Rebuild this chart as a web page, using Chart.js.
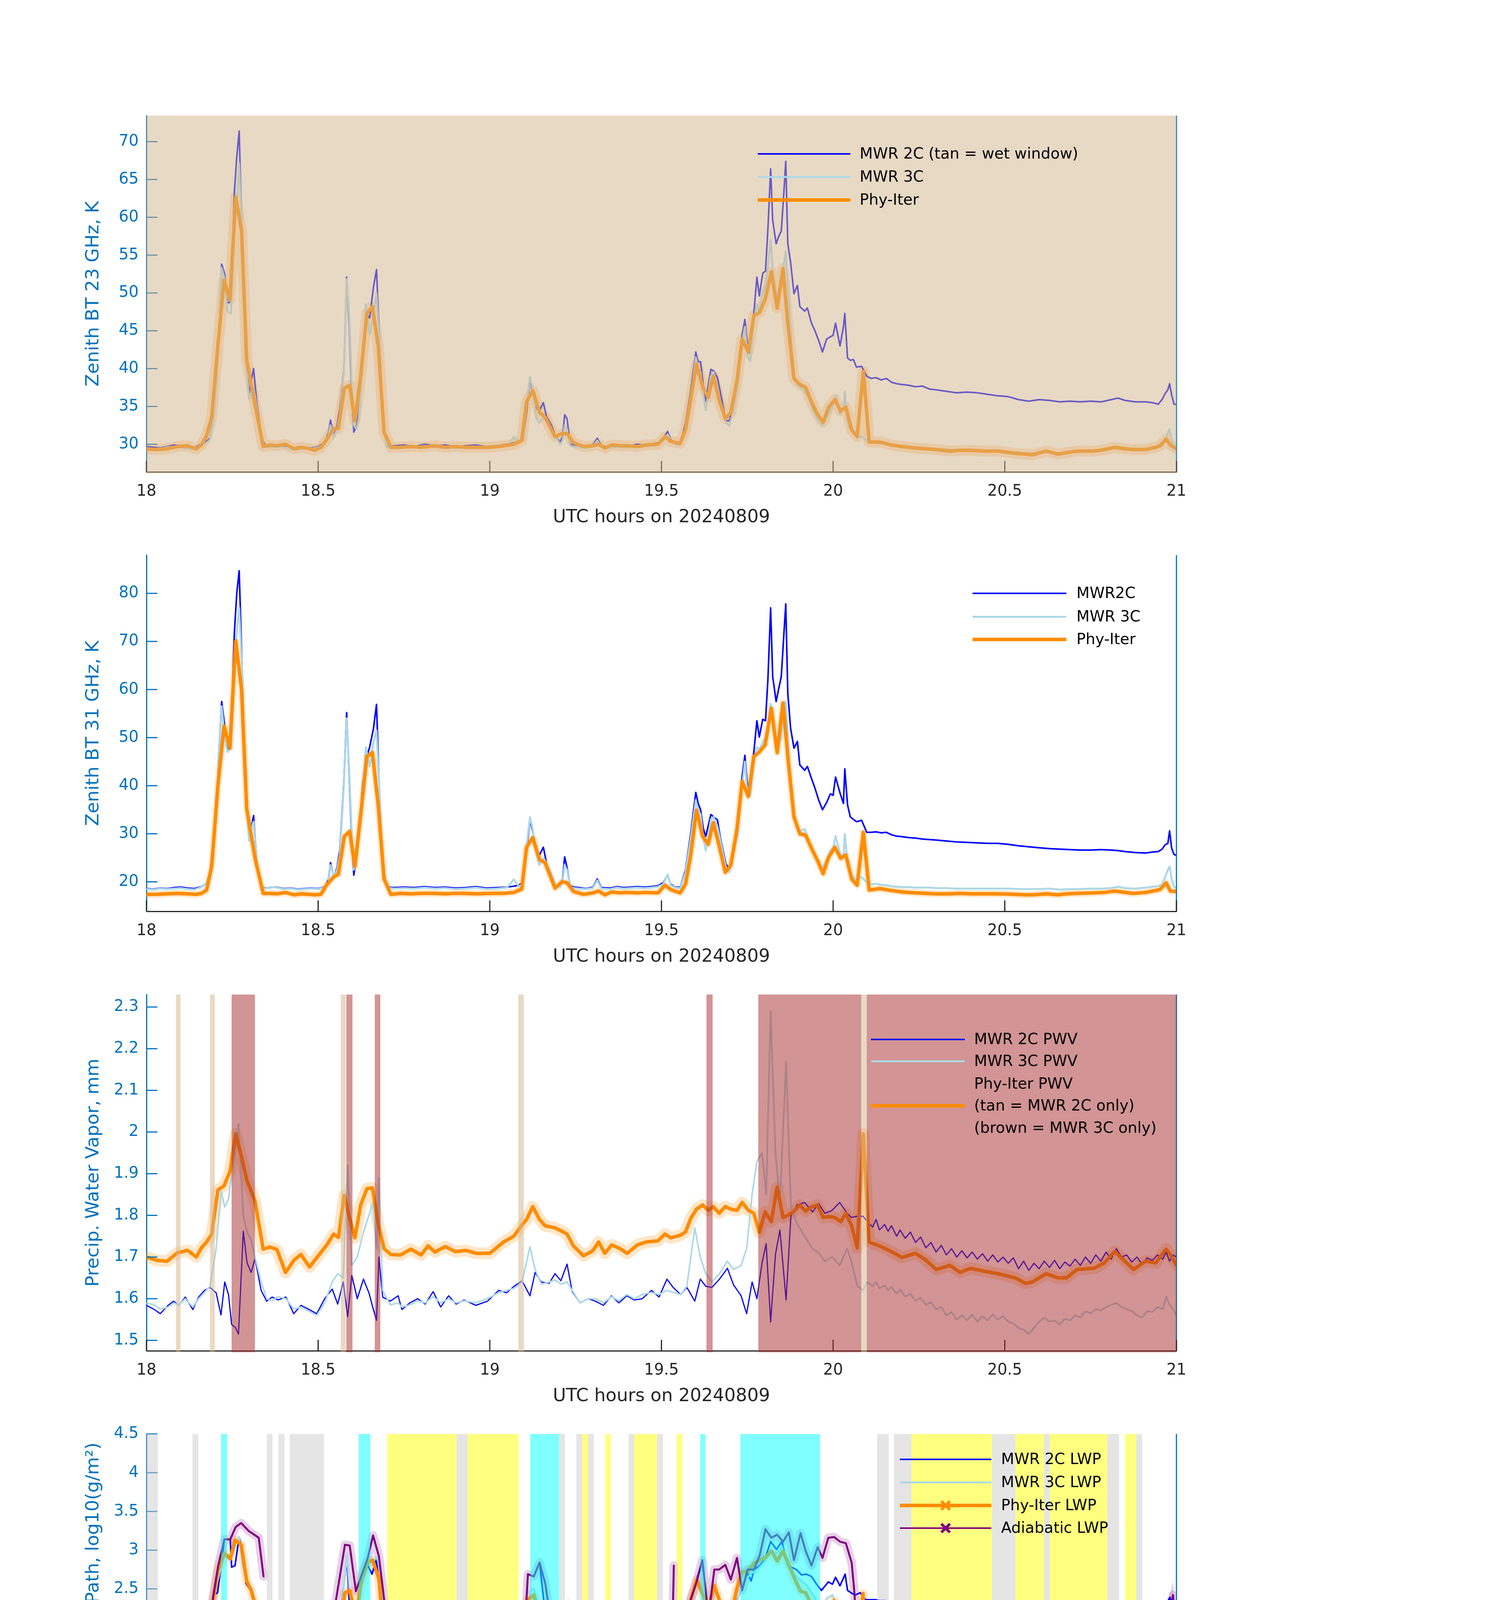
<!DOCTYPE html>
<html>
<head>
<meta charset="utf-8">
<title>MWR retrievals 20240809</title>
<script src="https://cdn.jsdelivr.net/npm/chart.js@4.4.1/dist/chart.umd.min.js"></script>
<style>
  html, body { margin: 0; padding: 0; background: #fff; }
  body { position: relative; width: 3825px; height: 6000px; overflow: hidden; }
  canvas { position: absolute; left: 0; }
</style>
</head>
<body>
<canvas id="bt23" width="3825" height="1125" style="top:230px"></canvas>
<canvas id="bt31" width="3825" height="1125" style="top:1355px"></canvas>
<canvas id="pwv" width="3825" height="1125" style="top:2480px"></canvas>
<canvas id="lwp" width="3825" height="1125" style="top:3605px"></canvas>
<canvas id="dq" width="3825" height="1125" style="top:4730px"></canvas>
<script>
// ---------- axis ticks ----------
const hourTicks = [18, 18.5, 19, 19.5, 20, 20.5, 21];
const bt23Ticks = [30, 35, 40, 45, 50, 55, 60, 65, 70];
const bt31Ticks = [20, 30, 40, 50, 60, 70, 80];
const pwvTicks = [1.5, 1.6, 1.7, 1.8, 1.9, 2, 2.1, 2.2, 2.3];
const lwpTicks = [0, 0.5, 1, 1.5, 2, 2.5, 3, 3.5, 4, 4.5];
const dqTicks = [0, 2, 4, 6, 8, 10];

// ---------- MWR brightness temperatures (panels 1 and 2) ----------
const mwrHours = [
  18.00, 18.02, 18.04, 18.06, 18.08, 18.10, 18.12, 18.14, 18.16, 18.175,
  18.185, 18.195, 18.204, 18.212, 18.219, 18.228, 18.236, 18.246, 18.256, 18.263,
  18.27, 18.28, 18.287, 18.299, 18.305, 18.312, 18.321, 18.336, 18.346,
  18.36, 18.38, 18.40, 18.42, 18.44, 18.46, 18.48, 18.50, 18.52, 18.53,
  18.536, 18.546, 18.555, 18.563, 18.575, 18.583, 18.59, 18.598, 18.604, 18.612,
  18.619, 18.63, 18.639, 18.65, 18.661, 18.67, 18.678, 18.688, 18.70,
  18.72, 18.75, 18.78, 18.81, 18.84, 18.87, 18.90, 18.93, 18.96, 18.99, 19.02, 19.05, 19.07, 19.085,
  19.098, 19.108, 19.117, 19.125, 19.135, 19.144, 19.156, 19.165, 19.18, 19.192, 19.205, 19.212, 19.218, 19.225, 19.234, 19.245,
  19.26, 19.28, 19.30, 19.313, 19.325, 19.35, 19.37, 19.39, 19.41, 19.43, 19.45, 19.47, 19.49, 19.505,
  19.518, 19.527, 19.54, 19.555, 19.57, 19.585, 19.6, 19.607, 19.614, 19.622,
  19.629, 19.644, 19.652, 19.663, 19.672, 19.688, 19.698, 19.707, 19.722, 19.735,
  19.743, 19.751, 19.759, 19.769, 19.778, 19.785, 19.795, 19.803, 19.81, 19.818,
  19.824, 19.834, 19.841, 19.849, 19.857, 19.862, 19.868, 19.876, 19.886, 19.896,
  19.903, 19.917, 19.925, 19.937, 19.947, 19.958, 19.969, 19.981, 19.992, 20.0,
  20.007, 20.02, 20.03, 20.034, 20.042, 20.05, 20.059, 20.068, 20.083, 20.098,
  20.11, 20.125, 20.14, 20.155, 20.17, 20.185, 20.20, 20.22, 20.24, 20.26,
  20.28, 20.30, 20.33, 20.36, 20.39, 20.42, 20.45, 20.48, 20.51, 20.54,
  20.57, 20.60, 20.63, 20.66, 20.69, 20.72, 20.75, 20.78, 20.81, 20.83,
  20.85, 20.88, 20.91, 20.93, 20.947, 20.958, 20.967, 20.975, 20.98, 20.986,
  20.993, 21.0
];
const bt23Mwr2C = [
  29.7, 29.6, 29.5, 29.7, 29.9, 29.8, 29.6, 29.5, 30.1, 30.4,
  30.8, 33.5, 38.3, 46.0, 53.8, 52.5, 48.7, 48.8, 63.3, 68.0,
  71.4, 54.7, 43.0, 36.8, 38.4, 40.0, 35.6, 30.7, 29.9,
  29.8, 29.9, 29.7, 29.5, 29.4, 29.6, 29.5, 29.7, 30.3, 31.5,
  33.2, 31.0, 32.5, 34.7, 39.9, 52.1, 46.0, 36.2, 31.6, 32.5,
  34.4, 42.0, 47.3, 46.7, 50.7, 53.1, 44.6, 33.8, 29.7,
  29.8, 29.9, 29.7, 30.0, 29.8, 29.9, 29.7, 29.8, 29.9, 29.7, 29.8, 30.0, 30.2, 30.4,
  30.7, 34.5, 38.7, 36.8, 34.8, 34.4, 35.5, 33.7, 32.5, 31.0, 30.3, 31.0, 33.9, 33.4, 30.0, 29.9,
  29.8, 29.6, 29.9, 30.8, 29.8, 29.6, 29.9, 29.7, 29.8, 30.0, 29.9, 30.0, 30.2, 30.8,
  31.7, 30.6, 30.2, 30.1, 32.8, 37.0, 42.2, 40.9, 40.9, 37.7,
  35.7, 39.9, 39.7, 38.8, 36.8, 33.1, 33.1, 35.0, 38.4, 44.5,
  46.5, 43.0, 42.0, 47.3, 52.1, 49.6, 52.6, 52.9, 58.4, 66.4,
  59.6, 56.5, 57.4, 58.2, 63.6, 67.4, 56.5, 54.1, 49.9, 51.0,
  48.2, 47.6, 48.0, 46.0, 45.0, 43.7, 42.2, 43.9, 44.2, 44.4,
  46.0, 43.0, 45.5, 47.3, 41.4, 41.1, 41.2, 40.2, 40.3, 39.0,
  38.7, 38.8, 38.5, 38.7, 38.2, 38.0, 37.9, 37.8, 37.6, 37.7,
  37.3, 37.2, 37.0, 36.8, 36.9, 36.8, 36.6, 36.4, 36.3, 35.9,
  35.7, 35.9, 35.8, 35.6, 35.7, 35.6, 35.7, 35.6, 35.9, 36.1,
  35.8, 35.6, 35.6, 35.5, 35.3, 35.9, 36.7, 37.2, 38.0, 36.5,
  35.3, 35.3
];
const bt23Mwr3C = [
  29.5, 29.4, 29.4, 29.6, 29.7, 29.6, 29.4, 29.4, 29.9, 30.2,
  30.6, 33.2, 38.0, 45.5, 53.3, 51.8, 47.5, 47.3, 58.0, 62.0,
  67.1, 56.0, 42.0, 36.0, 36.8, 37.5, 35.0, 30.5, 29.7,
  29.6, 29.7, 29.6, 29.4, 29.3, 29.4, 29.4, 29.6, 30.1, 31.2,
  32.5, 30.9, 32.0, 34.0, 39.5, 51.8, 47.5, 38.0, 32.5, 32.0,
  33.5, 41.0, 48.5, 44.5, 47.0, 50.0, 44.0, 33.0, 29.6,
  29.6, 29.7, 29.6, 29.8, 29.6, 29.7, 29.5, 29.6, 29.7, 29.6, 29.6, 29.8, 31.0, 30.2,
  30.6, 35.5, 38.9, 37.3, 33.5, 32.8, 33.5, 33.0, 32.0, 31.0, 30.0, 30.5, 32.5, 32.0, 29.8, 29.7,
  29.6, 29.5, 29.7, 30.5, 29.6, 29.5, 29.7, 29.6, 29.6, 29.8, 29.7, 29.8, 30.0, 30.5,
  31.3, 30.5, 30.0, 29.9, 32.0, 36.0, 41.5, 40.0, 39.5, 36.5,
  34.5, 39.0, 39.5, 37.5, 35.5, 32.8, 32.5, 34.0, 37.5, 43.5,
  45.5, 41.5, 41.0, 46.5, 48.5, 47.5, 50.0, 51.0, 53.5, 57.0,
  53.0, 50.0, 49.5, 51.0, 54.0, 55.5, 51.0, 45.0, 39.0, 37.8,
  37.6, 37.0, 36.5, 35.0, 34.0, 33.0, 32.5, 33.5, 34.5, 35.0,
  36.5, 34.0, 34.5, 37.0, 33.0, 32.0, 31.5, 31.0, 31.0, 30.5,
  30.3, 30.2, 30.1, 30.0, 29.9, 29.8, 29.7, 29.6, 29.5, 29.5,
  29.4, 29.3, 29.3, 29.2, 29.2, 29.1, 29.1, 29.1, 29.0, 28.9,
  28.8, 28.8, 29.0, 28.8, 28.9, 29.0, 29.1, 29.2, 29.5, 29.6,
  29.4, 29.3, 29.4, 29.5, 29.6, 29.8, 30.5, 31.5, 32.0, 30.5,
  29.7, 29.4
];
const bt31Mwr2C = [
  18.6, 18.5, 18.7, 18.6, 18.8, 18.9, 18.7, 18.6, 19.0, 19.7,
  22.0, 29.0, 36.0, 48.0, 57.5, 52.4, 47.2, 51.2, 71.8, 80.0,
  84.7, 61.5, 42.0, 30.0, 31.0, 33.8, 24.3, 18.9, 18.7,
  18.8, 18.9, 18.6, 18.7, 18.5, 18.6, 18.7, 18.6, 19.0, 20.5,
  24.0, 20.9, 23.0, 26.6, 40.9, 55.2, 42.6, 28.0, 21.4, 25.4,
  30.0, 40.9, 45.5, 48.0, 51.8, 56.9, 40.0, 24.0, 18.9,
  18.8, 18.9, 18.8, 19.0, 18.8, 18.9, 18.7, 18.8, 19.0, 18.7, 18.8, 18.9, 19.1, 19.3,
  20.0, 27.0, 32.9, 30.5, 27.0, 25.5, 27.2, 24.0, 21.5, 19.3, 19.0, 20.5, 25.2, 23.0, 19.2, 18.9,
  18.8, 18.6, 18.9, 20.6, 18.8, 18.7, 19.0, 18.8, 18.9, 19.0, 18.9, 19.0, 19.2, 19.8,
  21.4, 19.5, 18.9, 18.9, 22.5, 30.0, 38.6, 36.3, 35.0, 31.0,
  29.5, 34.0, 33.5, 32.9, 29.0, 23.7, 22.6, 26.0, 31.2, 42.0,
  46.3, 39.7, 41.0, 47.0, 53.5, 50.1, 53.8, 53.5, 62.0, 77.0,
  62.7, 57.5, 60.0, 62.7, 72.0, 77.8, 59.2, 52.0, 47.8, 49.2,
  44.3, 43.2, 44.0, 41.5, 39.5, 37.0, 35.0, 36.5, 38.3, 38.0,
  41.8, 38.5, 36.3, 43.5, 36.0, 33.5, 33.0, 32.5, 32.8, 30.3,
  30.3, 30.4, 30.2, 30.3, 29.8, 29.5, 29.4, 29.2, 29.1, 28.9,
  28.8, 28.7, 28.5, 28.3, 28.2, 28.1, 28.0, 28.0, 27.8, 27.5,
  27.3, 27.1, 26.9, 26.8, 26.7, 26.6, 26.6, 26.7, 26.6, 26.5,
  26.3, 26.1, 26.0, 26.2, 26.3, 26.8, 27.7, 28.0, 30.6, 27.0,
  25.7, 25.5
];
const bt31Mwr3C = [
  18.5, 18.4, 18.6, 18.5, 18.6, 18.7, 18.5, 18.4, 18.9, 19.8,
  21.5, 28.5, 35.0, 47.0, 56.5, 50.0, 47.0, 48.0, 66.0, 72.0,
  77.0, 62.0, 40.0, 28.5, 31.0, 32.5, 24.0, 18.8, 18.6,
  18.9, 18.8, 18.5, 18.6, 18.4, 18.5, 18.6, 18.5, 18.9, 20.0,
  23.5, 21.0, 22.5, 25.5, 40.0, 54.0, 44.0, 30.0, 22.5, 24.5,
  29.0, 40.0, 48.0, 44.0, 49.0, 51.5, 40.0, 24.0, 18.8,
  18.6, 18.7, 18.6, 18.8, 18.6, 18.7, 18.5, 18.6, 18.8, 18.5, 18.6, 18.8, 20.5, 19.0,
  19.8, 28.0, 33.5, 31.0, 26.0, 23.5, 25.0, 24.0, 21.5, 19.3, 18.9, 20.0, 23.5, 22.5, 19.0, 18.7,
  18.6, 18.5, 18.7, 20.3, 18.6, 18.5, 18.8, 18.6, 18.7, 18.8, 18.7, 18.8, 19.0, 19.5,
  21.5, 19.3, 18.8, 18.7, 22.0, 29.0, 37.0, 35.0, 34.0, 29.0,
  26.5, 33.0, 33.5, 31.5, 28.5, 23.0, 22.0, 25.0, 30.0, 40.0,
  45.0, 37.5, 38.0, 45.0, 48.0, 47.5, 49.0, 50.0, 52.0, 57.0,
  52.0, 49.0, 48.5, 50.0, 55.0, 57.5, 50.0, 40.0, 33.5, 31.0,
  30.5, 31.0, 29.5, 27.0, 25.5, 24.0, 23.0, 24.5, 26.5, 27.0,
  29.5, 26.0, 25.0, 30.0, 24.0, 22.0, 21.0, 20.5, 21.0, 19.8,
  19.5, 19.6, 19.4, 19.3, 19.1, 19.0, 18.9, 18.9, 18.8, 18.8,
  18.8, 18.7, 18.7, 18.6, 18.6, 18.6, 18.6, 18.6, 18.6, 18.5,
  18.5, 18.5, 18.6, 18.4, 18.5, 18.5, 18.6, 18.6, 18.7, 19.0,
  18.7, 18.6, 18.8, 19.0, 19.1, 19.5, 21.0, 22.5, 23.2, 20.5,
  19.0, 18.7
];

// ---------- Phy-Iter retrieval (panels 1-3) ----------
const iterHours = [
  18.00, 18.03, 18.06, 18.09, 18.12, 18.145, 18.16, 18.175, 18.19, 18.208,
  18.226, 18.243, 18.26, 18.277, 18.292, 18.316, 18.34, 18.36, 18.38, 18.405,
  18.43, 18.45, 18.475, 18.49, 18.508, 18.526, 18.545, 18.559, 18.576, 18.592,
  18.607, 18.624, 18.642, 18.658, 18.675, 18.692, 18.712, 18.74, 18.77, 18.80,
  18.82, 18.84, 18.87, 18.90, 18.93, 18.96, 19.00, 19.04, 19.07, 19.093,
  19.107, 19.125, 19.145, 19.161, 19.19, 19.21, 19.225, 19.244, 19.273, 19.30,
  19.317, 19.335, 19.355, 19.38, 19.40, 19.43, 19.455, 19.49, 19.51, 19.527,
  19.554, 19.57, 19.585, 19.602, 19.62, 19.636, 19.651, 19.668, 19.686, 19.702,
  19.72, 19.735, 19.753, 19.769, 19.785, 19.802, 19.82, 19.837, 19.854, 19.868,
  19.886, 19.903, 19.92, 19.937, 19.954, 19.971, 19.986, 20.005, 20.022, 20.037,
  20.054, 20.07, 20.088, 20.105, 20.137, 20.17, 20.20, 20.24, 20.27, 20.30,
  20.34, 20.37, 20.40, 20.44, 20.48, 20.53, 20.56, 20.58, 20.62, 20.655,
  20.68, 20.71, 20.76, 20.79, 20.82, 20.85, 20.875, 20.91, 20.94, 20.952,
  20.97, 20.982, 21.00
];
const bt23Iter = [
  29.4, 29.3, 29.4, 29.7, 29.8, 29.4, 29.9, 31.1, 33.6, 43.0,
  51.7, 49.1, 62.7, 58.2, 41.1, 35.3, 29.7, 29.9, 29.8, 30.0,
  29.4, 29.6, 29.4, 29.2, 29.6, 30.7, 32.0, 32.1, 37.4, 37.8,
  33.1, 39.0, 47.3, 48.2, 43.0, 31.6, 29.6, 29.6, 29.7, 29.6,
  29.7, 29.8, 29.6, 29.7, 29.6, 29.6, 29.6, 29.8, 30.0, 30.5,
  35.6, 37.1, 34.2, 33.6, 31.0, 31.4, 31.4, 30.2, 29.7, 29.8,
  30.0, 29.5, 29.9, 29.8, 29.8, 29.7, 29.9, 30.0, 31.0, 30.4,
  30.1, 31.9, 35.9, 40.6, 37.6, 36.2, 39.0, 35.9, 33.4, 34.2,
  38.4, 43.9, 42.2, 47.0, 47.4, 49.1, 52.8, 48.0, 53.2, 46.0,
  38.7, 37.9, 37.5, 35.6, 34.0, 32.9, 34.8, 35.9, 34.4, 34.9,
  31.9, 31.0, 39.6, 30.3, 30.3, 29.9, 29.7, 29.5, 29.4, 29.3,
  29.1, 29.2, 29.2, 29.1, 29.1, 28.8, 28.7, 28.6, 29.1, 28.7,
  28.9, 29.1, 29.1, 29.3, 29.6, 29.4, 29.3, 29.3, 29.6, 29.8,
  30.7, 29.9, 29.4
];
const bt31Iter = [
  17.4, 17.4, 17.5, 17.6, 17.5, 17.4, 17.6, 18.3, 23.2, 40.0,
  52.4, 47.8, 70.1, 60.0, 35.2, 25.0, 17.6, 17.6, 17.5, 17.8,
  17.3, 17.5, 17.4, 17.3, 17.4, 19.5, 21.0, 21.6, 29.4, 30.5,
  23.2, 34.0, 46.1, 46.9, 36.0, 20.6, 17.4, 17.6, 17.5, 17.6,
  17.6, 17.6, 17.5, 17.6, 17.6, 17.5, 17.6, 17.6, 17.8, 18.5,
  27.2, 29.2, 24.6, 24.0, 18.7, 20.0, 19.8, 18.0, 17.4, 17.7,
  18.1, 17.3, 17.9, 17.7, 17.8, 17.7, 17.8, 17.7, 19.3, 18.4,
  17.7, 19.5, 25.5, 34.9, 29.5, 27.8, 32.3, 27.5, 22.0, 23.5,
  31.0, 40.9, 37.8, 46.1, 47.0, 48.5, 56.1, 46.9, 57.2, 46.1,
  33.5, 30.0, 29.7, 27.0, 24.5, 21.7, 25.0, 27.2, 24.9, 25.6,
  20.6, 19.3, 30.3, 18.3, 18.6, 18.2, 17.9, 17.7, 17.6, 17.5,
  17.5, 17.6, 17.5, 17.5, 17.5, 17.4, 17.3, 17.3, 17.5, 17.3,
  17.5, 17.6, 17.7, 17.8, 18.1, 17.8, 17.6, 17.8, 18.2, 18.4,
  19.8, 18.1, 18.0
];
const pwvIter = [
  1.700, 1.692, 1.690, 1.710, 1.716, 1.700, 1.722, 1.736, 1.755, 1.861,
  1.871, 1.905, 1.996, 1.940, 1.885, 1.835, 1.719, 1.724, 1.718, 1.663,
  1.693, 1.706, 1.676, 1.692, 1.711, 1.730, 1.755, 1.747, 1.848, 1.792,
  1.746, 1.825, 1.864, 1.866, 1.779, 1.720, 1.706, 1.705, 1.719, 1.705,
  1.727, 1.712, 1.725, 1.713, 1.716, 1.709, 1.709, 1.736, 1.750, 1.776,
  1.790, 1.821, 1.790, 1.775, 1.770, 1.762, 1.755, 1.726, 1.703, 1.715,
  1.736, 1.709, 1.729, 1.720, 1.709, 1.729, 1.736, 1.739, 1.755, 1.746,
  1.752, 1.760, 1.792, 1.815, 1.825, 1.812, 1.821, 1.805, 1.821, 1.815,
  1.812, 1.831, 1.812, 1.805, 1.759, 1.808, 1.785, 1.868, 1.795, 1.800,
  1.810, 1.825, 1.810, 1.820, 1.825, 1.795, 1.797, 1.795, 1.785, 1.805,
  1.775, 1.722, 1.996, 1.736, 1.726, 1.713, 1.699, 1.709, 1.693, 1.670,
  1.680, 1.663, 1.673, 1.666, 1.660, 1.650, 1.637, 1.640, 1.660, 1.650,
  1.650, 1.670, 1.673, 1.686, 1.713, 1.690, 1.670, 1.690, 1.686, 1.700,
  1.719, 1.706, 1.680
];

// ---------- MWR precipitable water vapour (panel 3) ----------
const pwvHours = [
  18.000, 18.023, 18.040, 18.063, 18.079, 18.095, 18.113, 18.135, 18.152, 18.169,
  18.185, 18.203, 18.217, 18.228, 18.239, 18.248, 18.259, 18.268, 18.282, 18.293,
  18.305, 18.316, 18.334, 18.350, 18.366, 18.383, 18.406, 18.429, 18.450, 18.474,
  18.496, 18.519, 18.541, 18.557, 18.573, 18.586, 18.598, 18.614, 18.632, 18.648,
  18.659, 18.670, 18.677, 18.688, 18.710, 18.733, 18.744, 18.767, 18.790, 18.812,
  18.835, 18.857, 18.880, 18.902, 18.925, 18.959, 18.993, 19.026, 19.049, 19.071,
  19.094, 19.117, 19.132, 19.150, 19.173, 19.190, 19.207, 19.225, 19.240, 19.263,
  19.286, 19.308, 19.331, 19.354, 19.376, 19.399, 19.421, 19.444, 19.471, 19.493,
  19.516, 19.534, 19.556, 19.574, 19.597, 19.613, 19.629, 19.647, 19.669, 19.692,
  19.710, 19.732, 19.748, 19.764, 19.778, 19.793, 19.805, 19.818, 19.832, 19.845,
  19.863, 19.877, 19.895, 19.917, 19.940, 19.958, 19.976, 19.997, 20.019, 20.041,
  20.053, 20.071, 20.087,
  20.100, 20.115, 20.125, 20.135, 20.150, 20.160, 20.170, 20.185, 20.195, 20.210,
  20.225, 20.240, 20.255, 20.270, 20.285, 20.300, 20.315, 20.330, 20.345, 20.360,
  20.375, 20.390, 20.405, 20.420, 20.435, 20.450, 20.465, 20.480, 20.495, 20.510,
  20.525, 20.540, 20.555, 20.570, 20.585, 20.600, 20.615, 20.630, 20.645, 20.660,
  20.675, 20.690, 20.705, 20.720, 20.735, 20.750, 20.765, 20.780, 20.795, 20.810,
  20.825, 20.840, 20.855, 20.870, 20.885, 20.900, 20.915, 20.930, 20.945, 20.960,
  20.970, 20.980, 20.990, 21.000
];
const pwvMwr2C = [
  1.584, 1.574, 1.564, 1.584, 1.594, 1.584, 1.604, 1.574, 1.604, 1.620,
  1.627, 1.614, 1.561, 1.640, 1.610, 1.538, 1.531, 1.515, 1.762, 1.686,
  1.663, 1.696, 1.620, 1.594, 1.604, 1.597, 1.604, 1.564, 1.584, 1.574,
  1.564, 1.600, 1.623, 1.587, 1.640, 1.557, 1.656, 1.600, 1.647, 1.614,
  1.580, 1.548, 1.700, 1.604, 1.594, 1.607, 1.574, 1.590, 1.600, 1.587,
  1.617, 1.580, 1.607, 1.587, 1.597, 1.584, 1.594, 1.620, 1.614, 1.630,
  1.643, 1.607, 1.663, 1.640, 1.637, 1.660, 1.643, 1.683, 1.617, 1.590,
  1.600, 1.594, 1.584, 1.607, 1.590, 1.607, 1.597, 1.600, 1.620, 1.604,
  1.647, 1.627, 1.610, 1.627, 1.594, 1.647, 1.630, 1.627, 1.647, 1.673,
  1.633, 1.607, 1.564, 1.640, 1.600, 1.686, 1.732, 1.544, 1.706, 1.765,
  1.597, 1.798, 1.825, 1.831, 1.808, 1.828, 1.805, 1.812, 1.831, 1.805,
  1.795, 1.798, 1.798,
  1.785, 1.772, 1.790, 1.765, 1.778, 1.762, 1.775, 1.750, 1.765, 1.745,
  1.760, 1.735, 1.748, 1.722, 1.735, 1.712, 1.728, 1.705, 1.720, 1.700,
  1.715, 1.698, 1.712, 1.695, 1.708, 1.690, 1.705, 1.688, 1.700, 1.685,
  1.698, 1.672, 1.690, 1.668, 1.685, 1.672, 1.690, 1.675, 1.692, 1.672,
  1.688, 1.678, 1.695, 1.680, 1.700, 1.685, 1.705, 1.690, 1.712, 1.695,
  1.720, 1.700, 1.705, 1.688, 1.700, 1.682, 1.698, 1.692, 1.705, 1.695,
  1.712, 1.690, 1.705, 1.700
];
const pwvMwr3C = [
  1.590, 1.585, 1.575, 1.580, 1.590, 1.585, 1.600, 1.580, 1.600, 1.615,
  1.630, 1.720, 1.860, 1.820, 1.840, 1.900, 1.950, 2.020, 1.800, 1.760,
  1.740, 1.700, 1.640, 1.600, 1.595, 1.605, 1.600, 1.575, 1.580, 1.570,
  1.560, 1.590, 1.640, 1.660, 1.650, 1.920, 1.680, 1.700, 1.760, 1.800,
  1.830, 1.720, 1.890, 1.620, 1.585, 1.590, 1.580, 1.585, 1.595, 1.590,
  1.605, 1.590, 1.600, 1.590, 1.595, 1.590, 1.600, 1.615, 1.620, 1.625,
  1.640, 1.725, 1.670, 1.635, 1.640, 1.645, 1.635, 1.640, 1.620, 1.590,
  1.600, 1.600, 1.590, 1.605, 1.595, 1.610, 1.600, 1.610, 1.615, 1.610,
  1.620, 1.615, 1.610, 1.630, 1.770, 1.700, 1.660, 1.640, 1.660, 1.690,
  1.670, 1.680, 1.720, 1.850, 1.930, 1.950, 1.850, 2.290, 1.950, 1.830,
  2.170, 1.820, 1.780, 1.750, 1.720, 1.710, 1.690, 1.700, 1.680, 1.720,
  1.690, 1.630, 1.620,
  1.640, 1.630, 1.640, 1.625, 1.632, 1.620, 1.628, 1.612, 1.622, 1.605,
  1.612, 1.595, 1.602, 1.585, 1.592, 1.575, 1.580, 1.560, 1.568, 1.550,
  1.560, 1.548, 1.562, 1.545, 1.558, 1.548, 1.562, 1.550, 1.558, 1.545,
  1.540, 1.530, 1.525, 1.515, 1.530, 1.545, 1.555, 1.545, 1.548, 1.538,
  1.552, 1.548, 1.560, 1.555, 1.570, 1.565, 1.575, 1.572, 1.580, 1.585,
  1.590, 1.580, 1.575, 1.570, 1.560, 1.555, 1.570, 1.568, 1.580, 1.575,
  1.605, 1.585, 1.575, 1.560
];
// flag windows (hours): tan = MWR 2C only, brown = MWR 3C only
const pwvTanSpans = [[18.086, 18.099], [18.185, 18.199], [18.566, 18.580], [19.083, 19.099], [20.082, 20.098]];
const pwvBrownSpans = [[18.248, 18.316], [18.582, 18.600], [18.665, 18.681], [19.631, 19.649], [19.782, 20.082], [20.098, 21.000]];
const bt23WetSpans = [[18.0, 21.0]];

// ---------- liquid water path (panel 4) ----------
const lwpHours = [
  18.000, 18.010, 18.020, 18.033, 18.040, 18.050, 18.063, 18.075, 18.090, 18.100,
  18.114, 18.126, 18.140, 18.151, 18.160, 18.170, 18.195, 18.207, 18.227, 18.236,
  18.244, 18.248, 18.258, 18.270, 18.280, 18.290, 18.307, 18.320, 18.331, 18.341,
  18.348, 18.360, 18.372, 18.385, 18.395, 18.410, 18.420, 18.432, 18.444, 18.460,
  18.470, 18.483, 18.498, 18.513, 18.527, 18.540, 18.550, 18.562, 18.572, 18.584,
  18.592, 18.605, 18.615, 18.630, 18.644, 18.657, 18.669, 18.683, 18.693, 18.698,
  18.710, 18.720, 18.730, 18.740, 18.750, 18.765, 18.780, 18.795, 18.810, 18.825,
  18.840, 18.855, 18.870, 18.885, 18.900, 18.915, 18.930, 18.945, 18.960, 18.975,
  18.990, 19.005, 19.020, 19.035, 19.050, 19.065, 19.084, 19.097, 19.111, 19.128,
  19.145, 19.162, 19.177, 19.194, 19.206, 19.212, 19.220, 19.230, 19.240, 19.255,
  19.270, 19.290, 19.305, 19.319, 19.330, 19.353, 19.368, 19.382, 19.400, 19.421,
  19.440, 19.461, 19.480, 19.495, 19.508, 19.519, 19.530, 19.546, 19.560, 19.570,
  19.585, 19.603, 19.619, 19.637, 19.654, 19.668, 19.686, 19.700, 19.717, 19.735,
  19.751, 19.761, 19.770, 19.786, 19.800, 19.818, 19.835, 19.851, 19.865, 19.878,
  19.893, 19.908, 19.922, 19.937, 19.952, 19.966, 19.986, 19.998, 20.007, 20.020,
  20.035, 20.042, 20.052, 20.064, 20.079, 20.094, 20.110, 20.123, 20.138, 20.152,
  20.172, 20.190, 20.210, 20.230, 20.250, 20.270, 20.289, 20.310, 20.330, 20.350,
  20.367, 20.390, 20.410, 20.426, 20.450, 20.470, 20.484, 20.510, 20.530, 20.543,
  20.570, 20.590, 20.612, 20.640, 20.660, 20.680, 20.700, 20.720, 20.740, 20.758,
  20.780, 20.800, 20.817, 20.830, 20.845, 20.856, 20.870, 20.885, 20.900, 20.912,
  20.924, 20.935, 20.945, 20.954, 20.965, 20.973, 20.981, 20.991, 21.000
];
const lwpMwr2C = [
  1.46, 1.43, 1.47, 1.47, 1.48, 1.42, 1.36, 1.44, 1.50, 1.44,
  1.48, 1.42, 1.43, 1.58, 1.55, 1.67, 2.42, 2.45, 3.14, 3.14,
  3.14, 2.78, 2.80, 3.17, 2.99, 2.57, 2.45, 2.30, 2.00, 1.65,
  1.43, 1.47, 1.41, 1.46, 1.46, 1.50, 1.43, 1.47, 1.49, 1.47,
  1.46, 1.43, 1.45, 1.44, 1.64, 1.85, 1.91, 2.00, 2.45, 2.87,
  2.21, 1.88, 2.15, 2.69, 2.81, 2.69, 2.87, 2.45, 2.00, 1.47,
  1.47, 1.44, 1.56, 1.53, 1.55, 1.50, 1.52, 1.49, 1.53, 1.48,
  1.46, 1.52, 1.47, 1.45, 1.43, 1.47, 1.48, 1.45, 1.44, 1.52,
  1.47, 1.41, 1.44, 1.43, 1.44, 1.47, 1.49, 1.50, 2.69, 2.66,
  2.84, 2.15, 2.03, 1.91, 1.55, 1.44, 2.15, 1.55, 1.44, 1.47,
  1.44, 1.49, 1.46, 1.82, 1.46, 1.44, 1.46, 1.43, 1.46, 1.47,
  1.46, 1.47, 1.46, 1.41, 1.70, 1.61, 1.55, 1.52, 1.46, 1.97,
  2.27, 2.63, 2.87, 2.27, 2.51, 2.39, 2.09, 1.95, 2.33, 2.51,
  2.71, 2.60, 2.75, 2.80, 2.87, 3.11, 3.01, 3.11, 2.84, 2.78,
  2.75, 2.68, 2.69, 2.66, 2.56, 2.48, 2.59, 2.56, 2.65, 2.54,
  2.69, 2.48, 2.45, 2.42, 2.45, 2.36, 2.36, 2.36, 2.35, 2.35,
  2.32, 2.32, 2.31, 2.31, 2.31, 2.30, 2.30, 2.30, 2.30, 2.29,
  2.30, 2.29, 2.28, 2.28, 2.28, 2.27, 2.27, 2.26, 2.26, 2.25,
  2.24, 2.24, 2.23, 2.23, 2.22, 2.22, 2.21, 2.21, 2.20, 2.20,
  2.21, 2.21, 2.21, 2.22, 2.20, 2.19, 2.19, 2.18, 2.21, 2.20,
  2.22, 2.18, 2.17, 2.21, 2.29, 2.33, 2.39, 2.18, 2.16
];
const lwpMwr3C = [
  1.40, 1.38, 1.40, 1.41, 1.39, 1.42, 1.41, 1.40, 1.42, 1.41,
  1.42, 1.40, 1.41, 1.45, 1.52, 1.62, 2.35, 2.60, 2.96, 2.90,
  2.87, 2.90, 3.05, 3.17, 2.80, 2.60, 2.51, 2.30, 2.15, 1.67,
  1.41, 1.42, 1.44, 1.40, 1.42, 1.55, 1.40, 1.42, 1.43, 1.42,
  1.41, 1.42, 1.40, 1.42, 1.62, 2.00, 2.18, 1.90, 2.40, 2.95,
  2.45, 2.06, 2.35, 2.63, 2.86, 2.80, 2.92, 2.75, 1.91, 1.42,
  1.38, 1.40, 1.42, 1.40, 1.41, 1.39, 1.42, 1.40, 1.41, 1.40,
  1.42, 1.40, 1.41, 1.38, 1.40, 1.41, 1.42, 1.40, 1.41, 1.43,
  1.41, 1.40, 1.42, 1.41, 1.43, 1.80, 1.45, 1.45, 2.45, 2.50,
  2.20, 2.05, 1.95, 1.75, 1.50, 1.45, 1.90, 1.55, 1.43, 1.42,
  1.41, 1.45, 1.42, 1.75, 1.43, 1.40, 1.44, 1.41, 1.44, 1.45,
  1.43, 1.45, 1.44, 1.48, 1.65, 1.55, 1.50, 1.49, 1.47, 2.00,
  2.30, 2.60, 2.80, 2.35, 2.45, 2.40, 2.05, 2.00, 2.30, 2.55,
  2.65, 2.70, 2.72, 2.78, 2.85, 3.00, 2.95, 3.05, 2.80, 2.72,
  2.66, 2.60, 2.55, 2.45, 2.35, 2.30, 2.39, 2.42, 2.30, 2.27,
  2.33, 2.25, 2.15, 1.85, 1.67, 1.67, 1.66, 1.65, 1.65, 1.60,
  1.55, 1.50, 1.47, 1.46, 1.46, 1.45, 1.44, 1.45, 1.43, 1.44,
  1.45, 1.43, 1.44, 1.42, 1.43, 1.44, 1.44, 1.42, 1.43, 1.41,
  1.42, 1.44, 1.47, 1.44, 1.45, 1.44, 1.45, 1.46, 1.46, 1.47,
  1.49, 1.52, 1.58, 1.50, 1.48, 1.47, 1.49, 1.52, 1.55, 1.60,
  1.67, 1.58, 1.52, 1.55, 1.75, 2.15, 1.97, 1.49, 1.52
];
// Phy-Iter LWP, null = no retrieval; values under -0.1 mean log10 of ~0
const lwpIterHours = [
  18.158, 18.175, 18.195, 18.209, 18.227, 18.244, 18.258, 18.276, 18.292, 18.305, 18.327, 18.333, 18.40,
  18.527, 18.544, 18.561, 18.578, 18.592, 18.610, 18.627, 18.644, 18.659, 18.677, 18.693, 18.90,
  19.094, 19.111, 19.128, 19.145, 19.162, 19.179, 19.194, 19.206, 19.220, 19.235, 19.247, 19.28,
  19.310, 19.326, 19.34, 19.355, 19.361, 19.45,
  19.489, 19.493, 19.507, 19.520, 19.536, 19.55,
  19.570, 19.585, 19.603, 19.619, 19.637, 19.654, 19.668, 19.686, 19.702, 19.720,
  19.735, 19.751, 19.769, 19.786, 19.802, 19.820, 19.837, 19.854, 19.871, 19.888,
  19.905, 19.920, 19.937, 19.955, 19.968, 19.986, 20.003, 20.020, 20.037, 20.052,
  20.069, 20.087, 20.098, 20.105, 20.123, 20.138, 20.152, 20.172, 20.188, 20.206, 20.220, 20.30,
  20.470, 20.489, 20.70,
  20.895, 20.905, 20.921, 20.936, 20.955, 20.971, 20.988
];
const lwpIter = [
  0.55, 1.10, 2.39, 2.75, 2.96, 2.89, 3.13, 3.07, 2.60, 2.48, 2.11, -0.6, null,
  1.41, 1.88, 1.92, 2.45, 2.48, 2.14, 2.63, 2.84, 2.87, 2.63, 1.80, null,
  0.46, 2.36, 2.42, 2.18, 2.12, 1.97, 1.32, 1.67, 1.67, 0.95, -0.6, null,
  0.64, 0.72, null, -0.6, -0.02, null,
  -0.6, 0.00, 1.52, 1.19, 0.46, null,
  1.89, 2.36, 2.62, 2.44, 2.27, 2.54, 2.36, 1.98, 2.15, 2.51,
  2.72, 2.72, 2.83, 2.87, 2.90, 2.99, 2.86, 2.99, 2.81, 2.63,
  2.47, 2.45, 2.29, 2.12, 1.97, 2.23, 2.35, 2.23, 2.26, 1.89,
  1.67, 2.44, 1.43, 1.16, 1.25, 1.13, 1.16, 0.83, 0.77, 0.84, 0.58, null,
  -0.6, 0.06, null,
  -0.6, 0.28, 0.75, -0.6, -0.6, 1.62, -0.6
];
const lwpAdiHours = [
  18.158, 18.175, 18.195, 18.209, 18.227, 18.244, 18.260, 18.276, 18.297, 18.327, 18.341, 18.40,
  18.522, 18.542, 18.561, 18.578, 18.592, 18.610, 18.630, 18.644, 18.660, 18.677, 18.693, 18.80,
  18.905, 18.917, 19.00,
  19.094, 19.111, 19.128, 19.145, 19.162, 19.178, 19.194, 19.210, 19.228, 19.245, 19.262, 19.28,
  19.295, 19.312, 19.328, 19.345,
  19.361, 19.380, 19.397, 19.412, 19.45,
  19.497, 19.507, 19.519, 19.530, 19.536, 19.545,
  19.554, 19.570, 19.585, 19.603, 19.619, 19.637, 19.654, 19.668, 19.686, 19.702,
  19.720, 19.735, 19.751, 19.769, 19.786, 19.803, 19.820, 19.837, 19.854, 19.871,
  19.886, 19.905, 19.920, 19.937, 19.955, 19.969, 19.986, 20.003, 20.020, 20.037,
  20.054, 20.062, 20.074, 20.090, 20.105, 20.121, 20.138, 20.154, 20.172, 20.186,
  20.203, 20.219, 20.30,
  20.473, 20.489, 20.504, 20.520, 20.70,
  20.807, 20.822, 20.838, 20.86,
  20.888, 20.907, 20.924, 20.941, 20.957, 20.973, 20.990, 21.000
];
const lwpAdi = [
  1.31, 1.80, 2.42, 2.80, 3.14, 3.14, 3.30, 3.35, 3.25, 3.16, 2.66, null,
  1.55, 2.09, 2.60, 3.07, 3.06, 2.47, 2.72, 2.89, 3.19, 2.92, 2.33, null,
  1.17, 1.17, null,
  1.37, 2.69, 2.66, 2.84, 2.56, 2.06, 1.72, 1.46, 2.23, 1.58, 1.17, null,
  1.19, 2.15, 2.08, null,
  2.18, 1.67, 1.58, 1.17, null,
  2.09, 1.94, 1.61, 1.55, 2.80, null,
  1.52, 1.43, 2.36, 2.60, 2.87, 2.15, 2.75, 2.75, 2.81, 2.62,
  2.90, 2.48, 2.75, 2.75, 2.93, 3.27, 3.16, 3.20, 3.11, 3.23,
  2.87, 3.22, 2.99, 2.80, 3.04, 2.90, 3.16, 3.17, 3.11, 3.09,
  2.84, 2.45, 1.49, 1.31, 1.14, 1.37, 1.11, 1.11, 1.37, 1.47,
  1.13, 1.11, null,
  1.49, 1.13, 1.10, 1.10, null,
  1.18, 1.19, 1.25, null,
  1.18, 1.62, 1.34, 1.43, 1.62, 2.06, 2.42, 1.82
];
const iterMarkHours = [18.41];
const iterMarkValues = [1.17];
const adiMarkHours = [18.376, 20.621];
const adiMarkValues = [1.99, 1.11];
// uncertainty envelopes, null separates pieces
const iterBandHours = [
  18.151, 18.185, null, 18.367, 18.385, null, 18.402, 18.418, null, 18.522, 18.545, null,
  19.084, 19.100, null,
  19.206, 19.227, 19.255, 19.304, 19.343, 19.382, 19.412, 19.441, 19.461, 19.490, 19.507, 19.546, null,
  20.054, 20.074, 20.094, 20.133, 20.172, 20.210, 20.230, null,
  20.465, 20.500, null,
  20.880, 20.895, 20.924, 20.954, 20.973, 21.000
];
const iterBandLow = [
  -0.2, -0.2, null, -0.2, -0.2, null, 0.67, 0.67, null, 0.88, 0.88, null,
  -0.2, -0.2, null,
  -0.2, -0.2, -0.2, -0.2, -0.2, -0.2, -0.2, -0.2, -0.2, -0.2, -0.2, -0.2, null,
  -0.2, -0.2, -0.2, -0.2, -0.2, -0.2, -0.2, null,
  -0.2, -0.2, null,
  -0.2, -0.2, -0.2, -0.2, -0.2, -0.2
];
const iterBandHigh = [
  1.30, 1.30, null, 1.13, 1.13, null, 1.40, 1.40, null, 1.55, 1.97, null,
  1.50, 1.50, null,
  1.67, 1.37, 1.31, 1.37, 1.37, 1.37, 1.28, 1.25, 1.13, 1.07, 1.55, 1.40, null,
  1.94, 1.76, 1.70, 1.70, 1.67, 1.59, 1.55, null,
  0.25, 0.20, null,
  1.70, 1.79, 1.55, 1.67, 1.85, 1.55
];
const adiBandHours = [
  18.151, 18.172, null, 18.366, 18.384, null, 18.516, 18.528, null, 18.903, 18.935, null,
  19.084, 19.097, null, 19.215, 19.228, 19.245, 19.262, null,
  19.290, 19.305, 19.312, 19.328, null, 19.361, 19.380, 19.397, 19.412, null,
  19.490, 19.514, 19.527, null,
  20.062, 20.074, 20.090, 20.105, 20.121, 20.138, 20.154, 20.172, 20.186, 20.203, 20.219, null,
  20.463, 20.489, 20.504, 20.530, null, 20.797, 20.840, null,
  20.880, 20.907, 20.924, 20.941, 20.957, 20.973, 20.990, 21.000
];
const adiBandLow = [
  0.83, 0.85, null, 1.80, 1.80, null, 1.30, 1.30, null, 0.57, 0.57, null,
  0.95, 0.95, null, 1.40, 1.95, 1.20, 0.90, null,
  0.60, 0.60, 1.90, 1.85, null, 1.95, 1.50, 1.35, 0.90, null,
  1.90, 1.70, 1.35, null,
  1.80, 1.10, 0.70, 0.55, 0.70, 0.50, 0.60, 0.70, 0.75, 0.50, 0.50, null,
  0.50, 0.50, 0.50, 0.60, null, 0.58, 0.58, null,
  0.90, 1.00, 1.00, 1.10, 1.30, 1.70, 2.10, 1.50
];
const adiBandHigh = [
  1.80, 1.85, null, 2.15, 2.15, null, 1.80, 1.80, null, 1.52, 1.52, null,
  1.55, 1.55, null, 1.60, 2.40, 1.85, 1.40, null,
  1.55, 1.60, 2.30, 2.25, null, 2.30, 1.85, 1.75, 1.40, null,
  2.25, 2.05, 1.80, null,
  2.60, 1.75, 1.60, 1.55, 1.60, 1.50, 1.45, 1.55, 1.70, 1.45, 1.40, null,
  1.75, 1.45, 1.35, 1.30, null, 1.60, 1.60, null,
  1.40, 1.90, 1.70, 1.80, 1.90, 2.30, 2.60, 2.10
];
// sky condition windows (hours)
const lwpGreySpans = [[18.000, 18.033], [18.134, 18.151], [18.351, 18.367], [18.384, 18.402], [18.417, 18.517],
  [18.903, 18.935], [19.202, 19.219], [19.252, 19.269], [19.286, 19.303], [19.404, 19.420], [19.487, 19.504],
  [20.128, 20.162], [20.177, 20.228], [20.463, 20.531], [20.614, 20.631], [20.798, 20.833], [20.883, 20.900]];
const lwpCyanSpans = [[18.217, 18.235], [18.618, 18.652], [19.118, 19.202], [19.613, 19.628], [19.730, 19.962]];
const lwpYellowSpans = [[18.701, 18.903], [18.935, 19.084], [19.269, 19.286], [19.336, 19.353], [19.420, 19.487],
  [19.544, 19.561], [20.228, 20.463], [20.531, 20.614], [20.631, 20.798], [20.850, 20.883]];

// ---------- Phy-Iter data quality flag (panel 5) ----------
const dqFlag0Hours = [18.038, 18.054, 18.070, 18.085, 18.101, 18.117, 18.158, 18.174, 18.190, 18.205, 18.239,
  18.289, 18.305, 18.320, 18.336, 18.374, 18.408, 18.526, 18.542, 18.558, 18.574, 18.589, 18.605,
  18.661, 18.677, 18.690, 19.092, 19.108, 19.225, 19.241, 19.324, 19.358, 19.374, 19.390,
  19.507, 19.523, 19.539, 19.575, 19.591, 19.606, 19.642, 19.658, 19.673, 19.689, 19.705, 19.721,
  19.974, 19.990, 20.005, 20.021, 20.037, 20.053, 20.069, 20.084, 20.100, 20.116, 20.175,
  20.840, 20.907, 20.922, 20.938, 20.954, 20.970, 20.986];
const dqFlag3Hours = [18.007, 18.140, 18.356, 18.390, 18.424, 18.440, 18.456, 18.471, 18.487, 18.505,
  19.306, 19.489, 20.188, 20.472, 21.000];
const dqFlag4Hours = [18.023, 18.907, 18.920, 19.207, 19.256, 19.290, 19.405, 20.141, 20.157, 20.206, 20.222,
  20.490, 20.506, 20.522, 20.624, 20.804, 20.820, 20.888];
const dqFlag5Hours = [18.706, 18.722, 18.738, 18.753, 18.769, 18.785, 18.801, 18.817, 18.832, 18.848, 18.864,
  18.880, 18.893, 18.941, 18.956, 18.972, 18.988, 19.004, 19.020, 19.035, 19.051, 19.067, 19.275, 19.340,
  19.421, 19.437, 19.453, 19.469, 19.557, 20.238, 20.254, 20.270, 20.285, 20.301, 20.317, 20.333, 20.348,
  20.364, 20.380, 20.396, 20.411, 20.427, 20.443, 20.459, 20.540, 20.556, 20.572, 20.587, 20.603,
  20.639, 20.655, 20.671, 20.687, 20.702, 20.718, 20.734, 20.750, 20.766, 20.788, 20.854, 20.872];
const dqFlag6Hours = [18.223, 18.255, 18.273, 19.790, 19.823];
const dqFlag9Hours = [19.823];
const dqFlag10Hours = [18.223, 18.623, 18.638, 19.123, 19.139, 19.624, 19.737, 19.753, 19.769, 19.784,
  19.800, 19.816, 19.832, 19.847, 19.863, 19.879];
const dqFlag11Hours = [18.223, 18.623, 18.638, 19.123, 19.139, 19.155, 19.171, 19.187, 19.624, 19.737,
  19.753, 19.769, 19.784, 19.800, 19.816, 19.832, 19.847, 19.863, 19.879, 19.895, 19.911, 19.926, 19.942, 19.956];
const dqLevels = [0, 3, 4, 5, 6, 9, 10, 11];
const dqHoursByLevel = [dqFlag0Hours, dqFlag3Hours, dqFlag4Hours, dqFlag5Hours, dqFlag6Hours, dqFlag9Hours, dqFlag10Hours, dqFlag11Hours];

// ---------- styling ----------
const FONT = "'DejaVu Sans', sans-serif";
const AX_BLUE = '#0072bd', AX_DARK = '#262626';
const C_2C = '#0000ff', C_3C = '#add8e6', C_ITER = '#ff8c00', C_ADI = '#800080';
const TAN = '#d2b48c', BROWN = '#a52a2a', GREY = '#cccccc', CYAN = '#00ffff', YELLOW = '#ffff00';
Chart.defaults.font.family = FONT;

function pts(xs, ys) {
  return xs.map(function (x, i) { return { x: x, y: ys[i] }; });
}

function line(xs, ys, color, width, order) {
  return {
    data: pts(xs, ys), borderColor: color, borderWidth: width, pointRadius: 0,
    fill: false, tension: 0, spanGaps: false, order: order, clip: 0,
    borderJoinStyle: 'round', borderCapStyle: 'round'
  };
}

function marks(xs, ys, color, order) {
  return {
    data: pts(xs, ys), showLine: false, pointStyle: 'crossRot', pointRadius: 15,
    pointBorderWidth: 8, pointBorderColor: color, borderColor: color, order: order
  };
}

function xAxis() {
  return {
    type: 'linear', min: 18, max: 21,
    afterBuildTicks: function (s) { s.ticks = hourTicks.map(function (v) { return { value: v }; }); },
    afterFit: function (s) { s.height = 147; },
    ticks: { color: AX_DARK, font: { size: 40 }, padding: 27, maxRotation: 0, autoSkip: false,
      callback: function (v) { return String(v); } },
    grid: { display: false, drawTicks: false, tickLength: 0 },
    border: { display: true, color: AX_DARK, width: 3 },
    title: { display: true, text: 'UTC hours on 20240809', color: AX_DARK, font: { size: 46 }, padding: { top: 0, bottom: 2 } }
  };
}

function yAxis(min, max, ticks, label) {
  return {
    type: 'linear', min: min, max: max,
    afterBuildTicks: function (s) { s.ticks = ticks.map(function (v) { return { value: v }; }); },
    afterFit: function (s) { s.width = 375; },
    ticks: { color: AX_BLUE, font: { size: 40 }, padding: 20, autoSkip: false,
      callback: function (v) { return String(v); } },
    grid: { display: false, drawTicks: false, tickLength: 0 },
    border: { display: true, color: AX_BLUE, width: 3 },
    title: { display: true, text: label, color: AX_BLUE, font: { size: 47 }, padding: { top: 212, bottom: 0 } }
  };
}

function baseOptions(y) {
  return {
    responsive: false, animation: false, devicePixelRatio: 1, events: [],
    layout: { padding: { top: 66, right: 813, bottom: 0, left: 0 } },
    plugins: { legend: { display: false }, tooltip: { enabled: false } },
    scales: { x: xAxis(), y: y }
  };
}

// inward tick marks and the right-hand axis line
const tickMarks = {
  id: 'tickMarks',
  afterDatasetsDraw: function (chart) {
    const ctx = chart.ctx, a = chart.chartArea, x = chart.scales.x, y = chart.scales.y;
    ctx.save();
    ctx.lineWidth = 3;
    ctx.strokeStyle = AX_BLUE;
    y.ticks.forEach(function (t) {
      const py = y.getPixelForValue(t.value);
      ctx.beginPath(); ctx.moveTo(a.left, py); ctx.lineTo(a.left + 28, py); ctx.stroke();
    });
    ctx.beginPath(); ctx.moveTo(a.right, a.top); ctx.lineTo(a.right, a.bottom); ctx.stroke();
    ctx.strokeStyle = AX_DARK;
    x.ticks.forEach(function (t) {
      const px = x.getPixelForValue(t.value);
      ctx.beginPath(); ctx.moveTo(px, a.bottom); ctx.lineTo(px, a.bottom - 28); ctx.stroke();
    });
    ctx.restore();
  }
};

// shaded uncertainty envelopes drawn under the lines
function bandLayer(bands) {
  return {
    id: 'bandLayer',
    beforeDatasetsDraw: function (chart) {
      const ctx = chart.ctx, a = chart.chartArea, x = chart.scales.x, y = chart.scales.y;
      ctx.save();
      ctx.beginPath(); ctx.rect(a.left, a.top, a.right - a.left, a.bottom - a.top); ctx.clip();
      bands.forEach(function (b) {
        ctx.fillStyle = b.color;
        let seg = [];
        function flush() {
          if (seg.length > 1) {
            ctx.beginPath();
            seg.forEach(function (i, k) {
              const px = x.getPixelForValue(b.hours[i]), py = y.getPixelForValue(b.high[i]);
              if (k) ctx.lineTo(px, py); else ctx.moveTo(px, py);
            });
            for (let k = seg.length - 1; k >= 0; k--) {
              const i = seg[k];
              ctx.lineTo(x.getPixelForValue(b.hours[i]), y.getPixelForValue(b.low[i]));
            }
            ctx.closePath(); ctx.fill();
          }
          seg = [];
        }
        b.hours.forEach(function (h, i) { if (b.low[i] === null) flush(); else seg.push(i); });
        flush();
      });
      ctx.restore();
    }
  };
}

// half transparent condition windows laid over the plot
function overlay(layers) {
  return {
    id: 'overlay',
    afterDraw: function (chart) {
      const ctx = chart.ctx, a = chart.chartArea, x = chart.scales.x;
      ctx.save();
      ctx.globalAlpha = 0.5;
      layers.forEach(function (l) {
        ctx.fillStyle = l.color;
        l.spans.forEach(function (s) {
          const x0 = x.getPixelForValue(s[0]), x1 = x.getPixelForValue(s[1]);
          ctx.fillRect(x0, a.top, x1 - x0, a.bottom - a.top + 4);
        });
      });
      ctx.restore();
    }
  };
}

function legendBox(items, lineX0, lineX1, textX) {
  return {
    id: 'legendBox',
    afterDraw: function (chart) {
      const ctx = chart.ctx;
      ctx.save();
      ctx.font = "39px " + FONT;
      ctx.textBaseline = 'middle';
      ctx.lineCap = 'butt';
      items.forEach(function (it) {
        if (it.color) {
          ctx.strokeStyle = it.color; ctx.lineWidth = it.width;
          ctx.beginPath(); ctx.moveTo(lineX0, it.y); ctx.lineTo(lineX1, it.y); ctx.stroke();
          if (it.marker) {
            const cx = (lineX0 + lineX1) / 2, r = 11;
            ctx.lineWidth = 7;
            ctx.beginPath();
            ctx.moveTo(cx - r, it.y - r); ctx.lineTo(cx + r, it.y + r);
            ctx.moveTo(cx - r, it.y + r); ctx.lineTo(cx + r, it.y - r);
            ctx.stroke();
          }
        }
        ctx.fillStyle = '#000';
        ctx.fillText(it.text, textX, it.y + 2);
      });
      ctx.restore();
    }
  };
}

// ---------- panel 1: 23 GHz ----------
new Chart(document.getElementById('bt23'), {
  type: 'line',
  data: { datasets: [
    line(iterHours, bt23Iter, C_ITER, 9, 0),
    line(mwrHours, bt23Mwr3C, C_3C, 5, 1),
    line(mwrHours, bt23Mwr2C, C_2C, 4, 2),
    line(iterHours, bt23Iter, 'rgba(255,140,0,0.25)', 28, 5)
  ] },
  options: baseOptions(yAxis(26.35, 73.44, bt23Ticks, 'Zenith BT 23 GHz, K')),
  plugins: [tickMarks, overlay([{ spans: bt23WetSpans, color: TAN }]),
    legendBox([
      { y: 164, text: 'MWR 2C (tan = wet window)', color: C_2C, width: 4 },
      { y: 223, text: 'MWR 3C', color: C_3C, width: 5 },
      { y: 282, text: 'Phy-Iter', color: C_ITER, width: 9 }
    ], 1940, 2177, 2201)]
});

// ---------- panel 2: 31 GHz ----------
new Chart(document.getElementById('bt31'), {
  type: 'line',
  data: { datasets: [
    line(iterHours, bt31Iter, C_ITER, 9, 0),
    line(mwrHours, bt31Mwr3C, C_3C, 5, 1),
    line(mwrHours, bt31Mwr2C, C_2C, 4, 2),
    line(iterHours, bt31Iter, 'rgba(255,140,0,0.2)', 18, 5)
  ] },
  options: baseOptions(yAxis(13.87, 87.96, bt31Ticks, 'Zenith BT 31 GHz, K')),
  plugins: [tickMarks,
    legendBox([
      { y: 164, text: 'MWR2C', color: C_2C, width: 4 },
      { y: 224, text: 'MWR 3C', color: C_3C, width: 5 },
      { y: 282, text: 'Phy-Iter', color: C_ITER, width: 9 }
    ], 2490, 2730, 2756)]
});

// ---------- panel 3: PWV ----------
new Chart(document.getElementById('pwv'), {
  type: 'line',
  data: { datasets: [
    line(iterHours, pwvIter, C_ITER, 9, 0),
    line(pwvHours, pwvMwr3C, C_3C, 4, 1),
    line(pwvHours, pwvMwr2C, C_2C, 3, 2),
    line(iterHours, pwvIter, 'rgba(255,140,0,0.22)', 30, 5)
  ] },
  options: baseOptions(yAxis(1.475, 2.33, pwvTicks, 'Precip. Water Vapor, mm')),
  plugins: [tickMarks, overlay([{ spans: pwvTanSpans, color: TAN }, { spans: pwvBrownSpans, color: BROWN }]),
    legendBox([
      { y: 181, text: 'MWR 2C PWV', color: C_2C, width: 4 },
      { y: 237, text: 'MWR 3C PWV', color: C_3C, width: 5 },
      { y: 295, text: 'Phy-Iter PWV' },
      { y: 351, text: '(tan = MWR 2C only)', color: C_ITER, width: 9 },
      { y: 408, text: '(brown = MWR 3C only)' }
    ], 2230, 2470, 2494)]
});

// ---------- panel 4: LWP ----------
new Chart(document.getElementById('lwp'), {
  type: 'line',
  data: { datasets: [
    marks(iterMarkHours, iterMarkValues, C_ITER, -2),
    marks(adiMarkHours, adiMarkValues, C_ADI, -1),
    line(lwpAdiHours, lwpAdi, C_ADI, 5, 0),
    line(lwpIterHours, lwpIter, C_ITER, 9, 1),
    line(lwpHours, lwpMwr3C, C_3C, 5, 2),
    line(lwpHours, lwpMwr2C, C_2C, 4, 3),
    line(lwpAdiHours, lwpAdi, 'rgba(128,0,128,0.18)', 22, 5),
    line(lwpIterHours, lwpIter, 'rgba(255,140,0,0.2)', 24, 6)
  ] },
  options: baseOptions(yAxis(-0.1, 4.5, lwpTicks, 'log10 Liquid Water Path, log10(g/m\u00b2)')),
  plugins: [tickMarks,
    bandLayer([
      { hours: iterBandHours, low: iterBandLow, high: iterBandHigh, color: 'rgba(255,140,0,0.2)' },
      { hours: adiBandHours, low: adiBandLow, high: adiBandHigh, color: 'rgba(128,0,128,0.18)' }
    ]),
    overlay([{ spans: lwpGreySpans, color: GREY }, { spans: lwpCyanSpans, color: CYAN }, { spans: lwpYellowSpans, color: YELLOW }]),
    legendBox([
      { y: 131, text: 'MWR 2C LWP', color: C_2C, width: 4 },
      { y: 190, text: 'MWR 3C LWP', color: C_3C, width: 5 },
      { y: 249, text: 'Phy-Iter LWP', color: C_ITER, width: 9, marker: true },
      { y: 307, text: 'Adiabatic LWP', color: C_ADI, width: 4, marker: true }
    ], 2304, 2538, 2563)]
});

// ---------- panel 5: DQ flag ----------
new Chart(document.getElementById('dq'), {
  type: 'line',
  data: { datasets: dqLevels.map(function (lev, k) {
    return {
      data: dqHoursByLevel[k].map(function (h) { return { x: h, y: lev }; }),
      showLine: false, pointRadius: 4.5, pointBorderWidth: 0,
      pointBackgroundColor: C_ITER, borderColor: C_ITER
    };
  }) },
  options: baseOptions(yAxis(-0.5, 11.5, dqTicks, 'MWR Phy Iter DQ Flag')),
  plugins: [tickMarks]
});
</script>
</body>
</html>
